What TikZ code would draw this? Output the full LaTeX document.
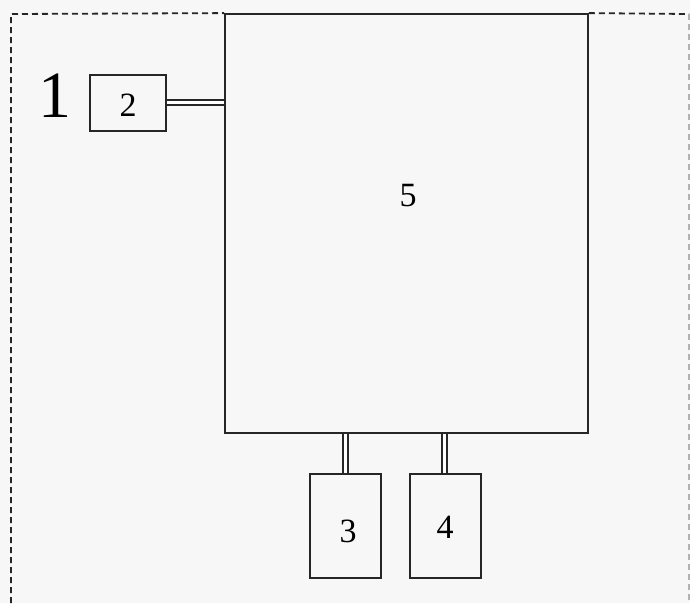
\documentclass[tikz,border=0pt]{standalone}
\usepackage{fontspec}
\setmainfont{Liberation Serif}
\begin{document}
\begin{tikzpicture}[x=1pt,y=-1pt,
  boxst/.style={draw=black!85,line width=1.8pt,inner sep=0pt},
  frame/.style={draw=black!85,line width=1.8pt,dash pattern=on 6pt off 4pt},
  link/.style={draw=black!85,line width=1.6pt,double=white,double distance=3.2pt},
  lbl/.style={font=\fontsize{34}{34}\selectfont,text=black}]
\useasboundingbox (0,0) rectangle (690,603);
\fill[white!97!black] (0,0) rectangle (690,603);
% big box 5
\node[boxst,minimum width=363pt,minimum height=419pt] (b5) at (406.5,223.5) {};
\node[lbl] (t5) at (408,196) {5};
% box 2
\node[boxst,minimum width=76pt,minimum height=56pt] (b2) at (128,103) {};
\node[lbl] (t2) at (128,105) {2};
% label 1
\node[font=\fontsize{66}{66}\selectfont,text=black] (t1) at (55,96) {1};
% boxes 3 and 4
\node[boxst,minimum width=71pt,minimum height=104pt] (b3) at (345.5,526) {};
\node[lbl] (t3) at (348,531) {3};
\node[boxst,minimum width=71pt,minimum height=104pt] (b4) at (445.5,526) {};
\node[lbl] (t4) at (445,527) {4};
% dashed frame
\coordinate (fl) at (11,603);
\coordinate (ftl) at (11,14);
\coordinate (ftr) at (689,14);
\coordinate (fbr) at (689,603);
\draw[frame] (fl) -- (ftl) -- (b5.north west);
\draw[frame] (b5.north east) -- (ftr);
\draw[frame,draw=black!30] (ftr) -- (fbr);
% connectors
\draw[link] (b2.east |- 0,102.5) -- (b5.west |- 0,102.5);
\draw[link] (b5.south -| 345.5,0) -- (b3.north -| 345.5,0);
\draw[link] (b5.south -| 444.5,0) -- (b4.north -| 444.5,0);
\end{tikzpicture}
\end{document}
